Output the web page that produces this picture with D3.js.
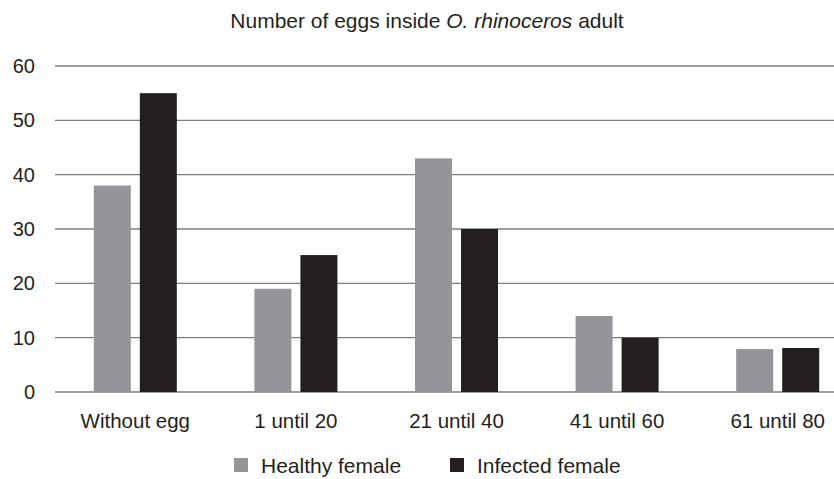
<!DOCTYPE html>
<html>
<head>
<meta charset="utf-8">
<script src="https://cdn.jsdelivr.net/npm/d3@7"></script>
<style>
  body { margin: 0; background: #fff; }
  svg text { font-family: "Liberation Sans", Arial, sans-serif; fill: #231f20; }
</style>
</head>
<body>
<svg id="chart"></svg>
<script>
// Data
const categories = ["Without egg", "1 until 20", "21 until 40", "41 until 60", "61 until 80"];
const seriesNames = ["Healthy female", "Infected female"];
const healthy = [38, 19, 43, 14, 7.9];
const infected = [55, 25.2, 30, 10, 8.1];
const yTicks = [0, 10, 20, 30, 40, 50, 60];
const colors = ["#939598", "#231f20"];

const width = 834, height = 479;
const margin = { top: 66, left: 55, bottom: 87 };
// the original plot runs past the right edge of the picture
const plotRight = 858;

const svg = d3.select("#chart").attr("width", width).attr("height", height);

const rows = categories.map((c, i) => ({ key: c, values: [healthy[i], infected[i]] }));

const x0 = d3.scaleBand()
  .domain(categories)
  .range([margin.left, plotRight])
  .paddingInner(0.483)
  .paddingOuter(0.2415);

const x1 = d3.scaleBand()
  .domain(seriesNames)
  .range([0, x0.bandwidth()])
  .paddingInner(0.196);

const y = d3.scaleLinear().domain([0, 60]).range([392, margin.top]);

// gridlines
svg.append("g")
  .selectAll("line")
  .data(yTicks)
  .join("line")
  .attr("x1", margin.left)
  .attr("x2", width)
  .attr("y1", d => y(d))
  .attr("y2", d => y(d))
  .attr("stroke", "#7e7e7e")
  .attr("stroke-width", 1.3);

// y tick labels
svg.append("g")
  .selectAll("text")
  .data(yTicks)
  .join("text")
  .attr("x", 35)
  .attr("y", d => y(d))
  .attr("dy", "0.35em")
  .attr("text-anchor", "end")
  .style("font-size", "20px")
  .text(d => d);

// bars
const groups = svg.append("g")
  .selectAll("g")
  .data(rows)
  .join("g")
  .attr("transform", d => `translate(${x0(d.key)},0)`);

groups.selectAll("rect")
  .data(d => d.values.map((v, i) => ({ s: seriesNames[i], v: v, i: i })))
  .join("rect")
  .attr("x", d => x1(d.s))
  .attr("y", d => y(d.v))
  .attr("width", x1.bandwidth())
  .attr("height", d => y(0) - y(d.v))
  .attr("fill", d => colors[d.i]);

// x labels
svg.append("g")
  .selectAll("text")
  .data(categories)
  .join("text")
  .attr("x", d => x0(d) + x0.bandwidth() / 2)
  .attr("y", 428)
  .attr("text-anchor", "middle")
  .style("font-size", "20.5px")
  .text(d => d);

// title
const title = svg.append("text")
  .attr("x", 427)
  .attr("y", 28)
  .attr("text-anchor", "middle")
  .style("font-size", "21px");
title.append("tspan").text("Number of eggs inside ");
title.append("tspan").style("font-style", "italic").text("O. rhinoceros");
title.append("tspan").text(" adult");

// legend
const legendX = [234, 450];
const legend = svg.append("g")
  .selectAll("g")
  .data(seriesNames)
  .join("g")
  .attr("transform", (d, i) => `translate(${legendX[i]},458)`);

legend.append("rect")
  .attr("width", 14)
  .attr("height", 14)
  .attr("fill", (d, i) => colors[i]);

legend.append("text")
  .attr("x", 27)
  .attr("y", 15)
  .style("font-size", "21px")
  .text(d => d);
</script>
</body>
</html>
